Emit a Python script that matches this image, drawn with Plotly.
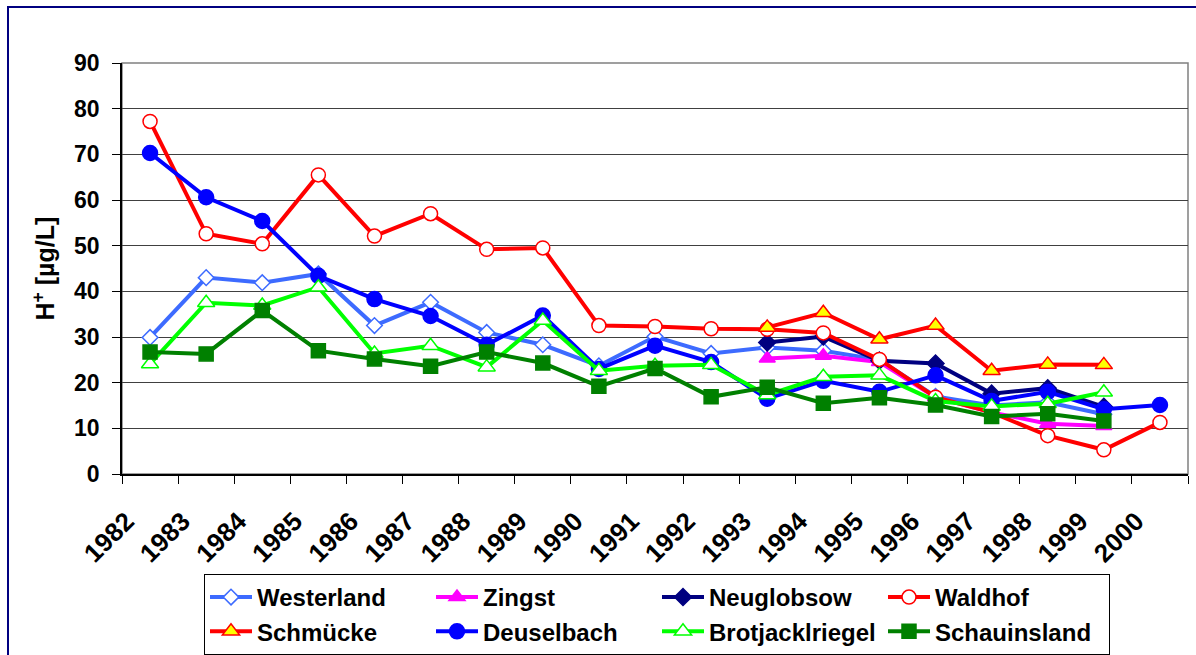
import plotly.graph_objects as go

years = list(range(1982, 2001))
year_labels = [str(y) for y in years]

westerland = [29.9, 43.0, 41.9, 43.8, 32.5, 37.6, 31.0, 28.3, 23.7, 30.1, 26.4, 27.7, 27.0, 25.0, 17.0, 15.0, 15.7, 13.1, None]
zingst = [None] * 11 + [25.3, 25.9, 24.5, 16.8, 13.5, 11.0, 10.5, None]
neuglobsow = [None] * 11 + [28.8, 30.1, 24.8, 24.2, 17.6, 18.8, 14.7, None]
waldhof = [77.2, 52.6, 50.4, 65.5, 52.1, 57.0, 49.2, 49.5, 32.5, 32.3, 31.8, 31.7, 30.9, 25.1, 16.8, 13.5, 8.4, 5.3, 11.3]
schmuecke = [None] * 11 + [32.1, 35.3, 29.5, 32.5, 22.6, 24.0, 23.9, None]
deuselbach = [70.3, 60.6, 55.4, 43.4, 38.3, 34.6, 28.3, 34.7, 23.0, 28.1, 24.5, 16.5, 20.4, 18.0, 21.6, 16.0, 18.0, 14.2, 15.1]
brotjacklriegel = [24.1, 37.5, 36.9, 40.9, 26.4, 28.1, 23.4, 33.6, 22.6, 23.7, 23.9, 17.3, 21.3, 21.6, 16.0, 14.8, 15.4, 17.9, None]
schauinsland = [26.7, 26.3, 35.8, 27.0, 25.2, 23.6, 26.7, 24.3, 19.2, 23.1, 16.9, 19.0, 15.5, 16.7, 15.1, 12.6, 13.2, 11.6, None]

y_ticks = [0, 10, 20, 30, 40, 50, 60, 70, 80, 90]

series = [
    ("Westerland", westerland, "#3D6BFF", "diamond", "white", "#3D6BFF", 12),
    ("Zingst", zingst, "#FF00FF", "triangle-up", "#FF00FF", "#FF00FF", 14),
    ("Neuglobsow", neuglobsow, "#000080", "diamond", "#000080", "#000080", 13),
    ("Waldhof", waldhof, "#FF0000", "circle", "white", "#FF0000", 14),
    ("Schmücke", schmuecke, "#FF0000", "triangle-up", "#FFFF00", "#FF0000", 15),
    ("Deuselbach", deuselbach, "#0000FF", "circle", "#0000FF", "#0000FF", 15),
    ("Brotjacklriegel", brotjacklriegel, "#00FF00", "triangle-up", "white", "#00FF00", 15),
    ("Schauinsland", schauinsland, "#008000", "square", "#008000", "#008000", 14),
]

FONT = "Arial, Liberation Sans, sans-serif"

fig = go.Figure()
for name, vals, col, sym, fill, edge, size in series:
    fig.add_trace(go.Scatter(
        x=years, y=vals, name=name, mode="lines+markers",
        connectgaps=False,
        line=dict(color=col, width=4),
        marker=dict(symbol=sym, size=size, color=fill, line=dict(color=edge, width=1.5)),
    ))

L, R, T, B = 122, 1188, 63, 474
W, H = 1196, 655
pw, ph = R - L, B - T

def px_x(p):
    return (p - L) / pw

def px_y(p):
    return (B - p) / ph

fig.update_layout(
    width=W, height=H,
    margin=dict(l=L, r=W - R, t=T, b=H - B, autoexpand=False),
    paper_bgcolor="white", plot_bgcolor="white",
    font=dict(family=FONT, size=23, color="black", weight="bold"),
    showlegend=True,
    legend=dict(
        orientation="h",
        x=px_x(204), y=px_y(574), xanchor="left", yanchor="top",
        bordercolor="black", borderwidth=1, bgcolor="white",
        font=dict(family=FONT, size=24, color="black", weight="bold"),
        entrywidth=169, entrywidthmode="pixels",
        itemwidth=42, tracegroupgap=0,
        traceorder="normal",
    ),
    xaxis=dict(
        type="linear",
        range=[years[0] - 0.5, years[-1] + 0.5],
        tickmode="array",
        tickvals=[y - 0.42 for y in years], ticktext=year_labels,
        ticks="outside", ticklen=8, tickcolor="rgba(0,0,0,0)",
        tickangle=-45, ticklabelstandoff=12,
        minor=dict(tick0=years[0] - 0.5, dtick=1, ticks="outside", ticklen=8,
                   tickcolor="black", tickwidth=1, showgrid=False),
        showline=True, linecolor="black", linewidth=1.5,
        showgrid=False, zeroline=False,
        tickfont=dict(family=FONT, size=26, color="black", weight="bold"),
    ),
    yaxis=dict(
        range=[0, 90], tickvals=y_ticks, ticktext=[str(v) for v in y_ticks],
        ticks="outside", ticklen=8, tickcolor="black", ticklabelstandoff=8,
        showline=True, linecolor="black", linewidth=1.5,
        showgrid=True, gridcolor="#404040", gridwidth=1, zeroline=False,
        tickfont=dict(family=FONT, size=23, color="black", weight="bold"),
    ),
    annotations=[dict(
        text="H<sup>+</sup> [µg/L]", textangle=-90,
        xref="paper", yref="paper", x=px_x(43), y=0.5,
        xanchor="center", yanchor="middle", showarrow=False,
        font=dict(family=FONT, size=25, color="black", weight="bold"),
    )],
    shapes=[
        dict(type="rect", xref="paper", yref="paper", x0=0, x1=1, y0=0, y1=1,
             line=dict(color="#808080", width=1.5), layer="below"),
        dict(type="rect", xref="paper", yref="paper",
             x0=px_x(8), x1=px_x(1205), y0=px_y(665), y1=px_y(7),
             line=dict(color="#000080", width=2), layer="below"),
    ],
)

fig.write_html(
    "out.html",
    config={"displayModeBar": False},
    post_script="document.body.style.margin='0px';document.body.style.overflow='hidden';",
)
